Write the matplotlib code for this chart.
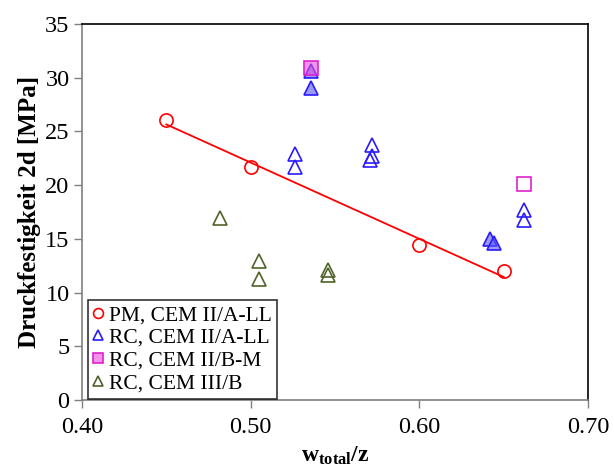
import numpy as np
import matplotlib
matplotlib.use("Agg")
import matplotlib.pyplot as plt

plt.rcParams['font.family'] = ['Liberation Serif', 'DejaVu Serif']
plt.rcParams['mathtext.fontset'] = 'custom'
plt.rcParams['mathtext.rm'] = 'Liberation Serif'
plt.rcParams['mathtext.bf'] = 'Liberation Serif:bold'

# PM, CEM II/A-LL
pm_wz = [0.45, 0.50, 0.60, 0.65]
pm_fc = [26.1, 21.7, 14.4, 12.0]

# RC, CEM II/A-LL (open symbols)
rc_a_wz = [0.526, 0.526, 0.572, 0.572, 0.571, 0.662, 0.662]
rc_a_fc = [22.9, 21.7, 23.7, 22.7, 22.3, 17.7, 16.8]

# RC, CEM II/A-LL (filled symbols)
rc_af_wz = [0.536, 0.536, 0.642, 0.644]
rc_af_fc = [30.6, 29.0, 15.0, 14.6]

# RC, CEM II/B-M
rc_b_wz = [0.536, 0.662]
rc_b_fc = [30.9, 20.1]
rc_b_filled = [True, False]

# RC, CEM III/B
rc_c_wz = [0.482, 0.505, 0.505, 0.546, 0.546]
rc_c_fc = [16.9, 12.9, 11.3, 12.1, 11.6]

x_ticks = [0.40, 0.50, 0.60, 0.70]
y_ticks = [0, 5, 10, 15, 20, 25, 30, 35]

fig = plt.figure(figsize=(6.14, 4.74), dpi=100)
ax = fig.add_axes([0.1336, 0.1561, 0.8241, 0.7933])

ms = 9.5
blue = '#2a1aff'
olive = '#4f6228'
magenta = '#e020d0'

# linear trend of the PM series
coef = np.polyfit(pm_wz, pm_fc, 1)
xl = np.array([min(pm_wz), max(pm_wz)])
ax.plot(xl, np.polyval(coef, xl), color='#ff0000', lw=1.3, zorder=2)

ax.plot(pm_wz, pm_fc, 'o', ms=ms, mfc='none', mec='#ff0000', mew=1.2,
        label='PM, CEM II/A-LL', zorder=3)
ax.plot(rc_a_wz, rc_a_fc, '^', ms=ms, mfc='none', mec=blue, mew=1.2,
        label='RC, CEM II/A-LL', zorder=3)
ax.plot(rc_af_wz, rc_af_fc, '^', ms=ms, mfc=(0.35, 0.35, 0.95, 0.6), mec=blue,
        mew=1.2, zorder=3)
for xv, yv, f in zip(rc_b_wz, rc_b_fc, rc_b_filled):
    ax.plot([xv], [yv], 's', ms=ms, mfc=(0.9, 0.3, 0.85, 0.6) if f else 'none',
            mec=magenta, mew=1.2, zorder=4)
ax.plot([], [], 's', ms=ms, mfc=(0.9, 0.3, 0.85, 0.6), mec=magenta, mew=1.2,
        label='RC, CEM II/B-M')
ax.plot(rc_c_wz, rc_c_fc, '^', ms=ms, mfc='none', mec=olive, mew=1.2,
        label='RC, CEM III/B', zorder=3)

ax.set_xlim(0.40, 0.70)
ax.set_ylim(0, 35)
ax.set_xticks(x_ticks)
ax.set_xticklabels([f'{v:.2f}' for v in x_ticks])
ax.set_yticks(y_ticks)
ax.tick_params(direction='out', length=6, width=1, color='#808080',
               labelsize=17.5, pad=3)
ax.tick_params(axis='x', pad=6)

for s in ['left', 'bottom']:
    ax.spines[s].set_color('#808080')
    ax.spines[s].set_linewidth(1.2)
for s in ['top', 'right']:
    ax.spines[s].set_color('#000000')
    ax.spines[s].set_linewidth(1.2)

ax.set_ylabel('Druckfestigkeit 2d [MPa]', fontsize=18, fontweight='bold',
              labelpad=3)
ax.set_xlabel(r'$\mathbf{w_{total}/z}$', fontsize=17, labelpad=5)

leg = ax.legend(loc='lower left', bbox_to_anchor=(0.011, 0.004), fontsize=15.5,
                frameon=True, fancybox=False, edgecolor='black',
                markerscale=0.75, handlelength=0.5, handletextpad=0.25,
                borderpad=0.25, labelspacing=0.12, borderaxespad=0.0)
leg.get_frame().set_linewidth(1.2)

fig.savefig('out.png', dpi=100)
